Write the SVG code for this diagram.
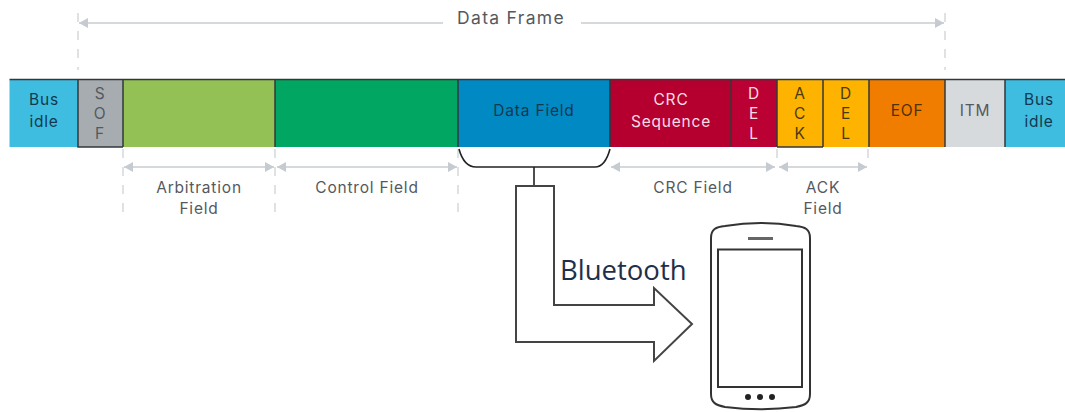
<svg xmlns="http://www.w3.org/2000/svg" width="1065" height="412" viewBox="0 0 1065 412">
<style>
.t{font-family:"Inter","Liberation Sans",sans-serif;font-size:15.500px;letter-spacing:.8px;text-anchor:middle;fill:#55595e}
.d{fill:#12394f}
.w{fill:#f6dde4}
.k{fill:#4a3a10}
.e{fill:#4f3208}
.s{stroke:#33383a;stroke-width:1.5}
.dim{stroke:#d5d9dc;stroke-width:2;fill:none}
.dash{stroke:#d5d9dc;stroke-width:1.5;stroke-dasharray:9 9;fill:none}
.lk{stroke:#222;stroke-width:1.6;fill:none}
.ar{stroke:#444;stroke-width:2;fill:#fff;stroke-linejoin:miter}
</style>
<defs>
<marker id="a" markerWidth="10" markerHeight="10" refX="9" refY="5" orient="auto-start-reverse" markerUnits="userSpaceOnUse"><path d="M0 0L9 5L0 10Z" fill="#c5cbd0"/></marker>
</defs>
<rect width="1065" height="412" fill="#fff"/>
<g id="connectors">
<path class="dash" d="M78 13V70M945 13V70M123 149V221M275 149V221M458 149V221M777 149V164M868 149V164"/>
<path class="dim" marker-start="url(#a)" d="M79 23H443"/>
<path class="dim" marker-end="url(#a)" d="M581 23H944"/>
<path class="dim" marker-start="url(#a)" marker-end="url(#a)" d="M124 167H274"/>
<path class="dim" marker-start="url(#a)" marker-end="url(#a)" d="M277 167H457"/>
<path class="dim" marker-start="url(#a)" marker-end="url(#a)" d="M611 167H775"/>
<path class="dim" marker-start="url(#a)" marker-end="url(#a)" d="M779 167H867"/>
<path class="lk" d="M459 149C462 160 468 167 476 167H595C602 167 607 160 610 149"/>
<path class="lk" d="M534 167V187"/>
<path id="bluetooth-arrow" class="ar" d="M516 186H554V305H654V288L692 324L654 361V342H516Z"/>
</g>
<g id="bus-idle-1"><rect x="9.500" y="80" width="68.500" height="67" fill="#3fbde0"/><text class="t d"><tspan x="44" y="105">Bus</tspan><tspan x="44" y="127">idle</tspan></text></g>
<g id="sof"><rect x="78" y="80" width="45" height="67" fill="#a7acb1"/><text class="t"><tspan x="100" y="99">S</tspan><tspan x="100" y="119">O</tspan><tspan x="100" y="139">F</tspan></text></g>
<g id="arbitration"><rect x="123" y="80" width="152" height="67" fill="#93c156"/></g>
<g id="control"><rect x="275" y="80" width="183" height="67" fill="#00a661"/></g>
<g id="data-field"><rect x="458" y="80" width="152" height="67" fill="#0089c3"/><text class="t d" x="534" y="116">Data Field</text></g>
<g id="crc-sequence"><rect x="610" y="80" width="121" height="67" fill="#b5002f"/><text class="t w"><tspan x="671" y="105">CRC</tspan><tspan x="671" y="127">Sequence</tspan></text></g>
<g id="del-1"><rect x="731" y="80" width="46" height="67" fill="#bb0033"/><text class="t w"><tspan x="754" y="99">D</tspan><tspan x="754" y="119">E</tspan><tspan x="754" y="139">L</tspan></text></g>
<g id="ack"><rect x="777" y="80" width="46" height="67" fill="#fdb300"/><text class="t k"><tspan x="800" y="99">A</tspan><tspan x="800" y="119">C</tspan><tspan x="800" y="139">K</tspan></text></g>
<g id="del-2"><rect x="823" y="80" width="46" height="67" fill="#fdb300"/><text class="t k"><tspan x="846" y="99">D</tspan><tspan x="846" y="119">E</tspan><tspan x="846" y="139">L</tspan></text></g>
<g id="eof"><rect x="869" y="80" width="76" height="67" fill="#f07d00"/><text class="t e" x="907" y="116">EOF</text></g>
<g id="itm"><rect x="945" y="80" width="60" height="67" fill="#d6dadd"/><text class="t" x="975" y="116">ITM</text></g>
<g id="bus-idle-2"><rect x="1005" y="80" width="60" height="67" fill="#3fbde0"/><text class="t d"><tspan x="1039" y="105">Bus</tspan><tspan x="1039" y="127">idle</tspan></text></g>
<path class="s" fill="none" d="M9.500 79.500H1065M78 79V147H123M123 79V147M275 79V147M458 79V147M610 79V147M731 79V147M777 79V147M777 147H823M823 79V147M869 79V147M945 79V147M1005 79V147"/>
<text class="t" style="font-size:17.500px;letter-spacing:1.300px" x="511" y="24">Data Frame</text>
<text class="t"><tspan x="199" y="193">Arbitration</tspan><tspan x="199" y="214">Field</tspan></text>
<text class="t" x="367" y="193">Control Field</text>
<text class="t" x="693" y="193">CRC Field</text>
<text class="t"><tspan x="823" y="193">ACK</tspan><tspan x="823" y="214">Field</tspan></text>
<text id="bluetooth-label" x="560" y="280" font-family="'Open Sans','Noto Sans',sans-serif" font-size="27.500" fill="#1f2f4a">Bluetooth</text>
<g id="phone" fill="none" stroke="#333">
<path stroke-width="2" d="M711 238C711 229 716 227 725 226C750 222 772 222 796 226C805 227 810 229 810 238V394C810 403 805 405 796 407C772 410 750 410 725 407C716 405 711 403 711 394Z"/>
<rect x="718" y="249.500" width="84" height="137.500" stroke-width="2"/>
<path stroke-width="3" stroke="#666" d="M748 238.500H773"/>
<g fill="#222" stroke="none"><circle cx="748" cy="397" r="3"/><circle cx="760" cy="397" r="3"/><circle cx="772" cy="397" r="3"/></g>
</g>
</svg>
